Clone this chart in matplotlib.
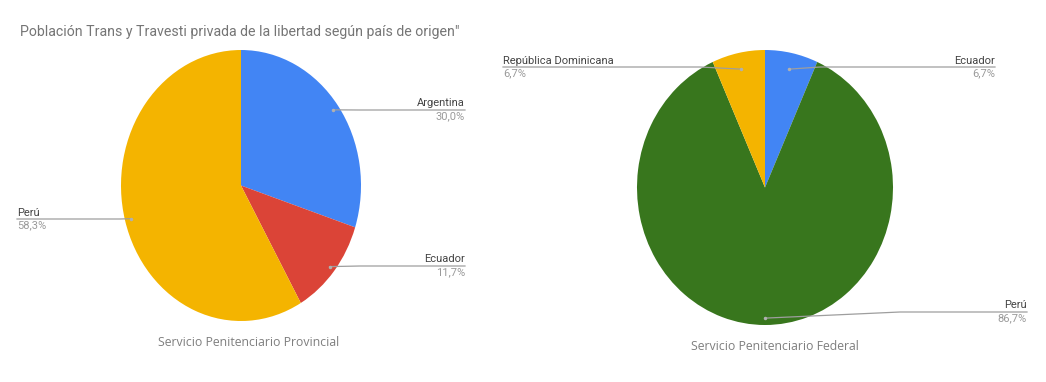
import matplotlib.pyplot as plt
import numpy as np

W, H = 1046, 382

title = 'Población Trans y Travesti privada de la libertad según país de origen"'

prov_name = "Servicio Penitenciario Provincial"
prov_labels = ["Argentina", "Ecuador", "Perú"]
prov_values = [30.0, 11.7, 58.3]
prov_colors = ["#4285F4", "#DB4437", "#F4B400"]

fed_name = "Servicio Penitenciario Federal"
fed_labels = ["Ecuador", "Perú", "República Dominicana"]
fed_values = [6.7, 86.7, 6.7]
fed_colors = ["#4285F4", "#38761D", "#F4B400"]

fig = plt.figure(figsize=(W / 100, H / 100), dpi=100)


def pix_axes(x0, y0, x1, y1):
    return fig.add_axes([x0 / W, 1 - y1 / H, (x1 - x0) / W, (y1 - y0) / H])


def draw_pie(box, values, colors):
    ax = pix_axes(*box)
    wedges, _ = ax.pie(values, colors=colors, startangle=90, counterclock=False,
                       radius=1, wedgeprops=dict(linewidth=0))
    ax.set_xlim(-1, 1)
    ax.set_ylim(-1, 1)
    ax.set_aspect("auto")
    ax.axis("off")
    return ax, wedges


ax1, w1 = draw_pie((121, 50, 361, 321), prov_values, prov_colors)
ax2, w2 = draw_pie((637, 50, 893, 325), fed_values, fed_colors)

# overlay in pixel coordinates for leader lines and texts
over = fig.add_axes([0, 0, 1, 1])
over.set_xlim(0, W)
over.set_ylim(H, 0)
over.axis("off")

lab_font = dict(family="Roboto", fontsize=8)


def label_slices(ax, wedges, labels, values, specs):
    for w, lab, v, (tx, ly, ha, ex, r) in zip(wedges, labels, values, specs):
        ang = np.deg2rad((w.theta1 + w.theta2) / 2)
        px, py = r * np.cos(ang), r * np.sin(ang)
        dx, dy = over.transData.inverted().transform(ax.transData.transform((px, py)))
        over.plot([dx, ex, tx], [dy, ly, ly], color="#9e9e9e", lw=0.9)
        over.plot(dx, dy, "o", ms=2.5, color="#b0b0b0", mec="none")
        over.text(tx, ly - 1.5, lab, ha=ha, va="bottom", color="#444444", **lab_font)
        pct = f"{v:.1f}%".replace(".", ",")
        over.text(tx, ly + 1.5, pct, ha=ha, va="top", color="#9a9a9a", **lab_font)


label_slices(ax1, w1, prov_labels, prov_values,
             [(465, 110, "right", 360, 0.95), (465, 266, "right", 360, 0.95),
              (17, 219, "left", 120, 0.95)])
label_slices(ax2, w2, fed_labels, fed_values,
             [(995, 67, "right", 820, 0.88), (1027, 312, "right", 900, 0.95),
              (503, 67, "left", 700, 0.88)])

over.text(20, 36, title, ha="left", va="baseline", color="#757575",
          family="Roboto", fontsize=10.2)
over.text(249, 343, prov_name, ha="center", va="center", color="#7f7f7f",
          family="Open Sans", fontsize=8.8)
over.text(775, 347, fed_name, ha="center", va="center", color="#7f7f7f",
          family="Open Sans", fontsize=8.8)

fig.savefig("out.png", dpi=100)
